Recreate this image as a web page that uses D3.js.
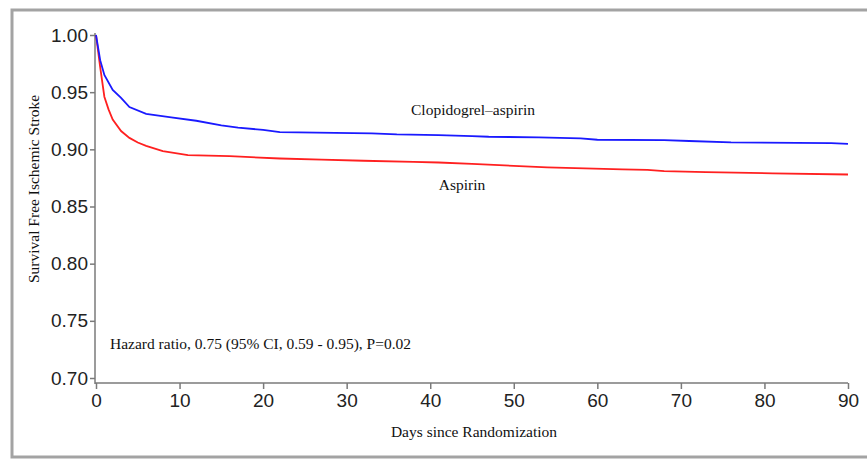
<!DOCTYPE html>
<html lang="en">
<head>
    <meta charset="UTF-8" />
    <title>Survival Free Ischemic Stroke</title>
    <script src="https://cdnjs.cloudflare.com/ajax/libs/d3/7.8.5/d3.min.js"></script>
    <style>
        body {
            margin: 0;
            padding: 0;
            background: #fff;
        }

        .tick-label {
            font-family: 'Liberation Sans', Arial, sans-serif;
            font-size: 19px;
            fill: #222;
        }

        .serif {
            font-family: 'Liberation Serif', 'Times New Roman', serif;
            font-size: 15.5px;
            fill: #111;
        }
    </style>
</head>
<body>
    <svg id="chart" width="867" height="460"></svg>

    <script>
        // values
        const xTicks = [0, 10, 20, 30, 40, 50, 60, 70, 80, 90];
        const yTicks = [0.70, 0.75, 0.80, 0.85, 0.90, 0.95, 1.00];

        const comboDays = [0, 0.5, 1, 2, 3, 4, 6, 9, 12, 15, 17, 20, 22, 33, 36, 41, 45, 47, 53, 58, 60, 68, 71, 76, 88, 90];
        const comboSurv = [1.000, 0.978, 0.965, 0.952, 0.945, 0.937, 0.931, 0.928, 0.925, 0.921, 0.919, 0.917, 0.915, 0.914, 0.913, 0.9125, 0.9116, 0.911, 0.9105, 0.9096, 0.9084, 0.908, 0.9073, 0.906, 0.9055, 0.9047];

        const aspirinDays = [0, 0.5, 1, 1.5, 2, 3, 4, 5, 6, 8, 11, 16, 22, 27, 32, 38, 41, 45, 54, 63, 66, 68, 73, 81, 90];
        const aspirinSurv = [1.000, 0.972, 0.946, 0.935, 0.926, 0.916, 0.910, 0.906, 0.903, 0.8985, 0.895, 0.894, 0.892, 0.891, 0.890, 0.889, 0.8885, 0.8872, 0.8843, 0.8825, 0.882, 0.881, 0.880, 0.879, 0.878];

        const svg = d3.select("#chart");

        // grey frame round the figure (right side runs off the page)
        svg.append("rect")
            .attr("x", 12)
            .attr("y", 10)
            .attr("width", 900)
            .attr("height", 447)
            .attr("fill", "none")
            .attr("stroke", "#a3a3a3")
            .attr("stroke-width", 3);

        const x = d3.scaleLinear().domain([0, 90]).range([96, 848]);
        const y = d3.scaleLinear().domain([0.70, 1.00]).range([378, 35]);

        const axisColor = "#7a7a7a";

        // y axis
        const yAxis = svg.append("g")
            .attr("transform", "translate(95,0)")
            .call(d3.axisLeft(y).tickValues(yTicks).tickFormat(d3.format(".2f")).tickSize(5).tickPadding(2));
        yAxis.select(".domain").remove();
        yAxis.append("line")
            .attr("x1", 0).attr("x2", 0)
            .attr("y1", y(1.00) - 2).attr("y2", 384)
            .attr("stroke", axisColor).attr("stroke-width", 1.5);

        // x axis
        const xAxis = svg.append("g")
            .attr("transform", "translate(0,383)")
            .call(d3.axisBottom(x).tickValues(xTicks).tickSize(6).tickPadding(5));
        xAxis.select(".domain").remove();
        xAxis.append("line")
            .attr("x1", 95).attr("x2", x(90))
            .attr("y1", 0).attr("y2", 0)
            .attr("stroke", axisColor).attr("stroke-width", 1.5);

        svg.selectAll(".tick line").attr("stroke", axisColor).attr("stroke-width", 1.5);
        svg.selectAll(".tick text").attr("class", "tick-label").attr("font-size", null).attr("font-family", null);

        const line = d3.line()
            .x(d => x(d[0]))
            .y(d => y(d[1]));

        svg.append("path")
            .datum(d3.zip(aspirinDays, aspirinSurv))
            .attr("fill", "none")
            .attr("stroke", "#ff2020")
            .attr("stroke-width", 1.8)
            .attr("d", line);

        svg.append("path")
            .datum(d3.zip(comboDays, comboSurv))
            .attr("fill", "none")
            .attr("stroke", "#1a1aff")
            .attr("stroke-width", 1.8)
            .attr("d", line);

        // labels
        svg.append("text")
            .attr("class", "serif")
            .attr("x", 473).attr("y", 115)
            .attr("text-anchor", "middle")
            .text("Clopidogrel\u2013aspirin");

        svg.append("text")
            .attr("class", "serif")
            .attr("x", 462).attr("y", 190)
            .attr("text-anchor", "middle")
            .text("Aspirin");

        svg.append("text")
            .attr("class", "serif")
            .attr("x", 110).attr("y", 349)
            .text("Hazard ratio, 0.75 (95% CI, 0.59 - 0.95), P=0.02");

        svg.append("text")
            .attr("class", "serif")
            .attr("x", 474).attr("y", 437)
            .attr("text-anchor", "middle")
            .text("Days since Randomization");

        svg.append("text")
            .attr("class", "serif")
            .attr("transform", "translate(39,189) rotate(-90)")
            .attr("text-anchor", "middle")
            .text("Survival Free Ischemic Stroke");
    </script>
</body>
</html>
